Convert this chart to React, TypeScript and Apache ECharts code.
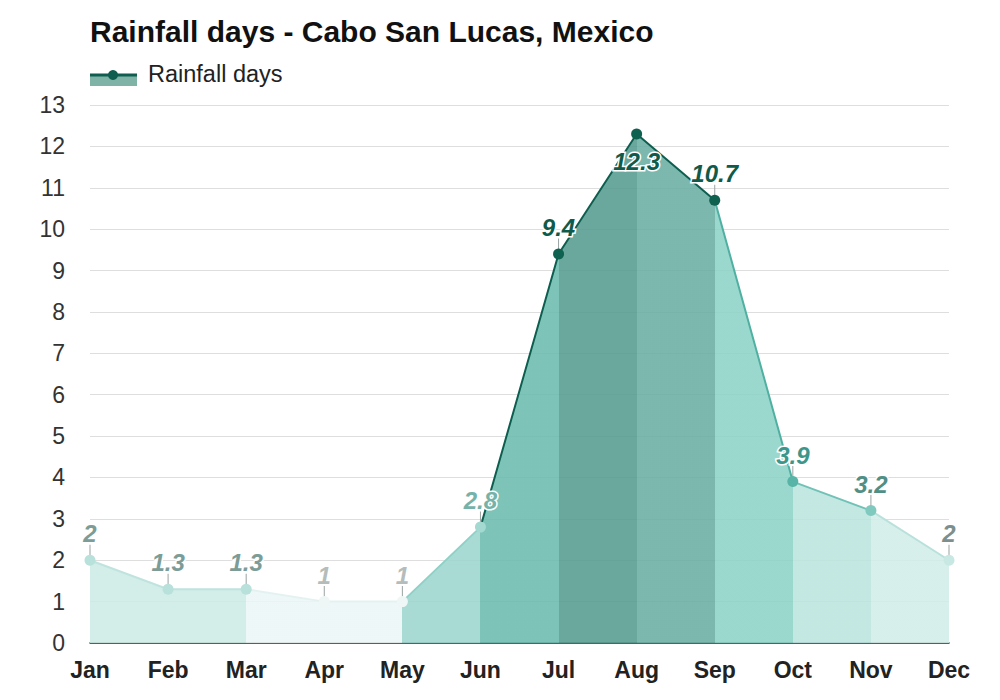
import React, { useEffect, useRef } from "react";
import * as echarts from "echarts";

const months = ["Jan", "Feb", "Mar", "Apr", "May", "Jun", "Jul", "Aug", "Sep", "Oct", "Nov", "Dec"];
const rainfallDays = [2, 1.3, 1.3, 1, 1, 2.8, 9.4, 12.3, 10.7, 3.9, 3.2, 2];
const yTicks = { min: 0, max: 13, interval: 1 };

// styles
const pointColors = ["#b9e1db", "#b9e1db", "#b9e1db", "#eef6f6", "#eef6f6", "#a3d9d1", "#0f6150", "#0f6150", "#0f6150", "#58b4a7", "#80c9bf", "#c8e8e4"];
const labelColors = ["#7c9c97", "#7c9c97", "#7c9c97", "#b4bcbc", "#b4bcbc", "#75b3aa", "#0e5b4c", "#0e5b4c", "#0e5b4c", "#3c968a", "#4f8f86", "#7d8f8c"];
const labelBelow = [false, false, false, false, false, false, false, true, false, false, false, false];
const lineSegColors = ["#bfe3de", "#bfe3de", "#e4f1f1", "#e4f1f1", "#8fd1c7", "#0e5e4f", "#0e5e4f", "#0e5e4f", "#4fb0a2", "#70c2b6", "#b9e1dc"];
const areaSegColors = ["#d3ede9", "#d3ede9", "#eef7f7", "#eef7f7", "#a9dbd4", "#7ec3b9", "#6aa79c", "#7cb8ad", "#9bd7ce", "#c3e8e3", "#d7efec"];
const AREA_ALPHA = 0.88;

function toRgba(hex: string, a: number) {
  const n = parseInt(hex.slice(1), 16);
  const c = [(n >> 16) & 255, (n >> 8) & 255, n & 255].map((t) =>
    Math.max(0, Math.min(255, Math.round((t - (1 - a) * 255) / a)))
  );
  return `rgba(${c[0]},${c[1]},${c[2]},${a})`;
}

function stepGradient(colors: string[], conv?: (c: string) => string) {
  const segs = colors.length;
  const stops: { offset: number; color: string }[] = [];
  colors.forEach((c, i) => {
    const col = conv ? conv(c) : c;
    stops.push({ offset: i / segs, color: col });
    stops.push({ offset: (i + 1) / segs, color: col });
  });
  return new echarts.graphic.LinearGradient(0, 0, 1, 0, stops);
}

export default function App() {
  const ref = useRef<HTMLDivElement>(null);
  useEffect(() => {
    if (!ref.current) return;
    const chart = echarts.init(ref.current, null, { renderer: "svg" });
    const font = "Arial, 'Liberation Sans', Helvetica, sans-serif";
    chart.setOption({
      animation: false,
      backgroundColor: "#ffffff",
      textStyle: { fontFamily: font },
      title: {
        text: "Rainfall days - Cabo San Lucas, Mexico",
        left: 85,
        top: 11,
        textStyle: { fontSize: 30, fontWeight: "bold", color: "#111", fontFamily: font },
      },
      graphic: [
        { type: "rect", shape: { x: 90, y: 75, width: 47, height: 11 }, style: { fill: "#7fb3a6" } },
        { type: "line", shape: { x1: 90, y1: 75, x2: 137, y2: 75 }, style: { stroke: "#0f5e4f", lineWidth: 3 } },
        { type: "circle", shape: { cx: 113, cy: 75, r: 5 }, style: { fill: "#0f5e4f" } },
        {
          type: "text",
          x: 148,
          y: 74,
          style: { text: "Rainfall days", fontSize: 23.5, fill: "#222", fontFamily: font, verticalAlign: "middle" },
        },
      ],
      grid: { left: 90, right: 51, top: 105, bottom: 57 },
      xAxis: {
        type: "category",
        data: months,
        boundaryGap: false,
        axisLine: { lineStyle: { color: "#333", width: 1.5 } },
        axisTick: { show: false },
        axisLabel: { fontSize: 23, fontWeight: "bold", color: "#222", margin: 15, fontFamily: font },
        splitLine: { show: false },
      },
      yAxis: {
        type: "value",
        min: yTicks.min,
        max: yTicks.max,
        interval: yTicks.interval,
        axisLine: { show: false },
        axisTick: { show: false },
        axisLabel: { fontSize: 23, color: "#333", margin: 25, fontFamily: font },
        splitLine: { lineStyle: { color: "#dedede", width: 1 } },
      },
      series: [
        {
          type: "line",
          data: rainfallDays.map((v, i) => ({
            value: v,
            itemStyle: { color: pointColors[i] },
            label: labelBelow[i]
              ? { color: labelColors[i], position: "bottom", distance: 10 }
              : { color: labelColors[i] },
          })),
          symbol: "circle",
          symbolSize: 11,
          showAllSymbol: true,
          lineStyle: { width: 2, color: stepGradient(lineSegColors) },
          areaStyle: { opacity: 1, color: stepGradient(areaSegColors, (c) => toRgba(c, AREA_ALPHA)) },
          label: {
            show: true,
            position: "top",
            distance: 9,
            fontSize: 24,
            fontWeight: "bold",
            fontStyle: "italic",
            textBorderColor: "#ffffff",
            textBorderWidth: 3,
            fontFamily: font,
          },
          z: 3,
        },
        {
          type: "scatter",
          data: rainfallDays.map((v, i) => ({
            value: v,
            itemStyle: { opacity: labelBelow[i] ? 0 : 1 },
          })),
          symbol: "rect",
          symbolSize: [1, 11],
          symbolOffset: [0, -10],
          itemStyle: { color: "#9aa3a2" },
          silent: true,
          z: 2,
        },
      ],
    });
    return () => chart.dispose();
  }, []);
  return <div ref={ref} style={{ width: 1000, height: 700, margin: -8 }} />;
}
